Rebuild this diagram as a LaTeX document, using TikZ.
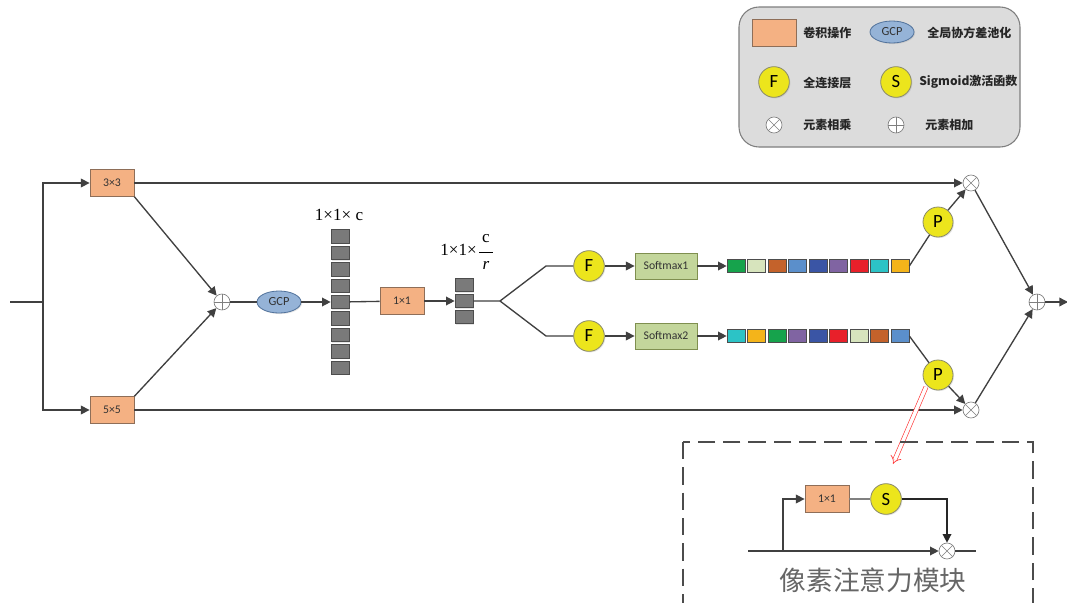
\documentclass[tikz,border=0pt]{standalone}
\usepackage{fontspec}
\setmainfont{Liberation Serif}
\newfontfamily\cjk{Noto Sans CJK SC}
\newfontfamily\lab{Carlito}
\usetikzlibrary{arrows.meta,shapes.geometric,shadows}

\definecolor{ln}{HTML}{404040}
\definecolor{convfill}{HTML}{F4B183}
\definecolor{convdraw}{HTML}{8E6E58}
\definecolor{gcpfill}{HTML}{95B3D7}
\definecolor{gcpdraw}{HTML}{52739C}
\definecolor{ylw}{HTML}{ECE51C}
\definecolor{ylwdraw}{HTML}{8A8A6A}
\definecolor{smfill}{HTML}{C3D69B}
\definecolor{smdraw}{HTML}{7F8F4F}
\definecolor{sqfill}{HTML}{7A7A7A}
\definecolor{sqdraw}{HTML}{4D4D4D}
\definecolor{opdraw}{HTML}{7F7F7F}
\definecolor{legfill}{HTML}{DCDCDC}
\definecolor{legdraw}{HTML}{7F7F7F}
\definecolor{cgreen}{HTML}{16A34C}
\definecolor{csage}{HTML}{D7E4BD}
\definecolor{cbrown}{HTML}{C4622B}
\definecolor{csteel}{HTML}{5B8FCB}
\definecolor{cdblue}{HTML}{3A55A5}
\definecolor{cpurple}{HTML}{8064A2}
\definecolor{cred}{HTML}{E8202A}
\definecolor{cteal}{HTML}{2CC3C6}
\definecolor{camber}{HTML}{F4B41A}
\definecolor{redarrow}{HTML}{FF3B3B}

\begin{document}
\begin{tikzpicture}[x=0.75pt,y=-0.75pt,
  shade/.style={drop shadow={opacity=0.2,shadow xshift=0.8pt,shadow yshift=-0.8pt}},
  conv/.style={rectangle,fill=convfill,draw=convdraw,line width=0.6pt,minimum width=33pt,minimum height=20pt,inner sep=0pt,font=\lab\fontsize{8.8}{9}\selectfont,text=black!80,shade},
  gcp/.style={ellipse,fill=gcpfill,draw=gcpdraw,line width=0.6pt,minimum width=33pt,minimum height=16.5pt,inner sep=0pt,font=\lab\fontsize{9.3}{10}\selectfont,text=black!80,shade},
  yc/.style={circle,fill=ylw,draw=ylwdraw,line width=0.6pt,minimum size=#1,inner sep=0pt,font=\lab\fontsize{14}{15}\selectfont,shade},
  yc/.default=23pt,
  smx/.style={rectangle,fill=smfill,draw=smdraw,line width=0.6pt,minimum width=46.5pt,minimum height=19.5pt,inner sep=0pt,font=\lab\fontsize{8.8}{9}\selectfont,text=black!80,shade},
  gsq/.style={rectangle,fill=sqfill,draw=sqdraw,line width=0.5pt,minimum width=13.5pt,minimum height=10pt,inner sep=0pt,shade},
  csq/.style={rectangle,fill=#1,draw=sqdraw,line width=0.5pt,minimum width=13.5pt,minimum height=10pt,inner sep=0pt},
  opc/.style={circle,draw=opdraw,fill=white,line width=0.5pt,minimum size=12pt,inner sep=0pt},
  mul/.style={opc,path picture={\draw[opdraw,line width=0.5pt] (path picture bounding box.south west) -- (path picture bounding box.north east) (path picture bounding box.north west) -- (path picture bounding box.south east);}},
  add/.style={opc,path picture={\draw[opdraw,line width=0.5pt] (path picture bounding box.north) -- (path picture bounding box.south) (path picture bounding box.west) -- (path picture bounding box.east);}},
  wire/.style={draw=ln,line width=1pt},
  arr/.style={wire,-{Triangle[length=6.5pt,width=6.5pt]}},
  legtxt/.style={anchor=west,font=\cjk\bfseries\fontsize{9}{10}\selectfont,text=black!85,inner sep=0pt},
  dimtxt/.style={font=\fontsize{12.8}{13}\selectfont,inner sep=0pt},
]
\clip (0,0) rectangle (1067,603);
\fill[white] (0,0) rectangle (1067,603);

% ---------- legend ----------
\node[draw=legdraw,fill=legfill,rounded corners=15pt,line width=0.8pt,minimum width=210.75pt,minimum height=105pt,inner sep=0pt] (legend) at (879.5,77) {};
\node[conv,minimum width=33pt,minimum height=20pt] (lconv) at (774,33) {};
\node[legtxt] (lconvt) at (803,33) {卷积操作};
\node[gcp] (lgcp) at (892,32) {GCP};
\node[legtxt] (lgcpt) at (927,33) {全局协方差池化};
\node[yc] (lF) at (774,82) {F};
\node[legtxt] (lFt) at (803,83) {全连接层};
\node[yc] (lS) at (896,82) {S};
\node[legtxt] (lSt) at (919,82) {Sigmoid激活函数};
\node[mul] (lmul) at (774,125) {};
\node[legtxt] (lmult) at (803,125) {元素相乘};
\node[add] (ladd) at (896,125) {};
\node[legtxt] (laddt) at (925,125) {元素相加};

% ---------- input split ----------
\coordinate (in) at (10,302);
\coordinate (sp) at (43,302);
\coordinate (spt) at (43,183);
\coordinate (spb) at (43,410);
\node[conv] (c33) at (112,183) {3×3};
\node[conv] (c55) at (112,410) {5×5};
\draw[wire] (in) -- (sp);
\draw[arr] (sp) -- (spt) -- (c33);
\draw[arr] (sp) -- (spb) -- (c55);

% ---------- fusion and GCP ----------
\node[add] (add1) at (222,302) {};
\draw[arr] (c33.south east) -- (add1);
\draw[arr] (c55.north east) -- (add1);
\node[gcp] (gcp) at (279,302) {GCP};
\draw[wire] (add1) -- (gcp);

% column 1x1xc
\foreach \i in {1,...,9}
  \node[gsq] (g\i) at (340,{302+(\i-5)*16.4}) {};
\node[dimtxt] (lab1) at (339,215) {1×1× c};
\draw[arr] (gcp) -- (g5);

\node[conv] (c11) at (402,301) {1×1};
\draw[wire] (g5) -- (c11);

% column 1x1xc/r
\node[gsq] (h1) at (464,285) {};
\node[gsq] (h2) at (464,301) {};
\node[gsq] (h3) at (464,317) {};
\draw[arr] (c11) -- (h2);
\node[dimtxt,anchor=east] (lab2) at (477,250) {1×1×};
\node[dimtxt] (lab2c) at (486,239) {c};
\node[dimtxt,font=\itshape\fontsize{12.8}{13}\selectfont] (lab2r) at (486,265) {r};
\draw[line width=0.5pt] (479,252) -- (493,252);

% ---------- two branches ----------
\coordinate (sp2) at (500,301);
\coordinate (bt) at (546,266);
\coordinate (bb) at (546,336);
\node[yc] (F1) at (589,266) {F};
\node[yc] (F2) at (589,336) {F};
\draw[wire] (h2) -- (sp2) -- (bt) -- (F1);
\draw[wire] (sp2) -- (bb) -- (F2);
\node[smx] (sm1) at (666,266) {Softmax1};
\node[smx] (sm2) at (666,336) {Softmax2};
\draw[arr] (F1) -- (sm1);
\draw[arr] (F2) -- (sm2);

\foreach \c [count=\i from 0] in {cgreen,csage,cbrown,csteel,cdblue,cpurple,cred,cteal,camber}
  \node[csq=\c] (a\i) at ({736+20.5*\i},266) {};
\foreach \c [count=\i from 0] in {cteal,camber,cgreen,cpurple,cdblue,cred,csage,cbrown,csteel}
  \node[csq=\c] (b\i) at ({736+20.5*\i},336) {};
\draw[arr] (sm1) -- (a0);
\draw[arr] (sm2) -- (b0);

\node[yc=22.5pt] (P1) at (938,222) {P};
\node[yc=22.5pt] (P2) at (938,375) {P};
\node[mul] (mul1) at (971,183) {};
\node[mul] (mul2) at (971,410) {};
\draw[wire] (a8.east) -- (P1);
\draw[wire] (b8.east) -- (P2);
\draw[arr] (P1) -- (mul1);
\draw[arr] (P2) -- (mul2);
\draw[arr] (c33) -- (mul1);
\draw[arr] (c55) -- (mul2);

\node[add] (add2) at (1037,302) {};
\coordinate (out) at (1068,302);
\draw[arr] (mul1) -- (add2);
\draw[arr] (mul2) -- (add2);
\draw[arr] (add2) -- (out);

% ---------- pixel attention detail ----------
\coordinate (zs) at (926,387);
\coordinate (ze) at (893,464);
\draw[redarrow,line width=0.5pt,double=white,double distance=2.6pt,-{Implies}] (zs) -- (ze);

\draw[draw=black!70,line width=1pt,dash pattern=on 13pt off 6pt] (683,442) rectangle (1033,640);

\node[conv] (pc) at (827,499) {1×1};
\node[yc] (pS) at (886,499) {S};
\node[mul] (mul3) at (947,551) {};
\coordinate (pin) at (748,551);
\coordinate (pbr) at (783,551);
\coordinate (pup) at (783,499);
\coordinate (prt) at (947,499);
\coordinate (pout) at (976,551);
\draw[arr] (pin) -- (mul3);
\draw[wire] (mul3) -- (pout);
\draw[arr] (pbr) -- (pup) -- (pc);
\draw[wire,draw=gray] (pc) -- (pS);
\draw[arr,draw=black!85] (pS) -- (prt) -- (mul3);
\node[font=\cjk\fontsize{20}{22}\selectfont,text=black!60,inner sep=0pt] (ptitle) at (873,580) {像素注意力模块};
\end{tikzpicture}
\end{document}
